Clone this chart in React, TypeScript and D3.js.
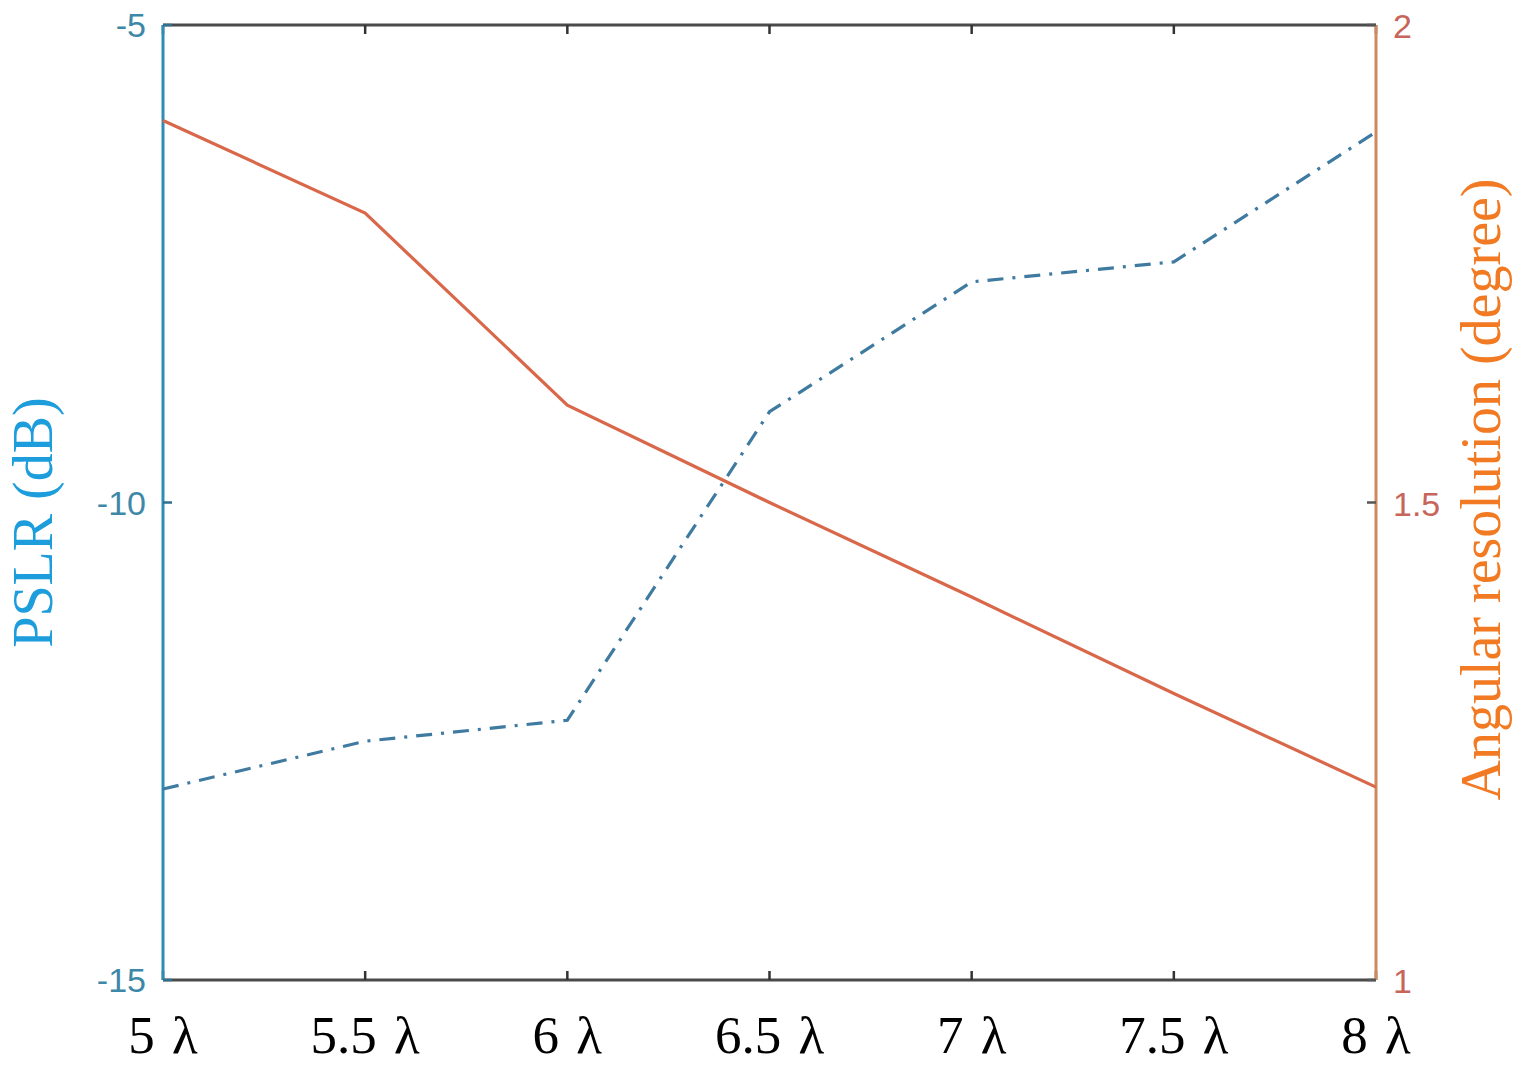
import React from "react";
import * as d3 from "d3";

const xValues = [5, 5.5, 6, 6.5, 7, 7.5, 8];
const xTickLabels = ["5 λ", "5.5 λ", "6 λ", "6.5 λ", "7 λ", "7.5 λ", "8 λ"];
const pslr = [-13.0, -12.5, -12.28, -9.05, -7.69, -7.48, -6.12];
const angRes = [1.9, 1.803, 1.602, 1.5, 1.401, 1.3, 1.202];
const leftTicks = [-15, -10, -5];
const rightTicks = [1, 1.5, 2];

const W = 1518;
const H = 1067;
const L = 163, R = 1376, T = 25, B = 980;

export default function App() {
  const x = d3.scaleLinear().domain([5, 8]).range([L, R]);
  const yL = d3.scaleLinear().domain([-15, -5]).range([B, T]);
  const yR = d3.scaleLinear().domain([1, 2]).range([B, T]);

  const lineL = d3.line<number>().x((_, i) => x(xValues[i])).y((d) => yL(d));
  const lineR = d3.line<number>().x((_, i) => x(xValues[i])).y((d) => yR(d));

  return (
    <svg width={W} height={H} style={{ position: "absolute", left: 0, top: 0, background: "#fff" }}>
      {/* top border */}
      <line x1={L} x2={R} y1={T} y2={T} stroke="#4a4a4a" strokeWidth={3} />
      {/* bottom axis */}
      <line x1={L} x2={R} y1={B} y2={B} stroke="#4a4a4a" strokeWidth={3} />
      {xValues.map((v, i) => (
        <g key={"xt" + i}>
          <line x1={x(v)} x2={x(v)} y1={B} y2={B - 9} stroke="#333" strokeWidth={2.5} />
          <line x1={x(v)} x2={x(v)} y1={T} y2={T + 9} stroke="#333" strokeWidth={2.5} />
          <text x={x(v)} y={1053} textAnchor="middle" fontFamily="Liberation Serif, Times New Roman, serif" fontSize={53} fill="#000" wordSpacing={4}>
            {xTickLabels[i]}
          </text>
        </g>
      ))}
      {/* left axis */}
      <line x1={L} x2={L} y1={T} y2={B} stroke="#2f8db5" strokeWidth={3} />
      {leftTicks.map((v) => (
        <g key={"lt" + v}>
          <line x1={L} x2={L + 9} y1={yL(v)} y2={yL(v)} stroke="#2f6f8f" strokeWidth={2.5} />
          <text x={146} y={yL(v) + 12} textAnchor="end" fontFamily="Liberation Sans, Arial, sans-serif" fontSize={34} fill="#3d88a8">
            {v}
          </text>
        </g>
      ))}
      {/* right axis */}
      <line x1={R} x2={R} y1={T} y2={B} stroke="#d08860" strokeWidth={3} />
      {rightTicks.map((v) => (
        <g key={"rt" + v}>
          <line x1={R} x2={R - 9} y1={yR(v)} y2={yR(v)} stroke="#555" strokeWidth={2.5} />
          <text x={1393} y={yR(v) + 13} textAnchor="start" fontFamily="Liberation Sans, Arial, sans-serif" fontSize={34} fill="#c8655a">
            {v}
          </text>
        </g>
      ))}
      {/* series */}
      <path d={lineR(angRes) || ""} fill="none" stroke="#d9684a" strokeWidth={3.2} />
      <path d={lineL(pslr) || ""} fill="none" stroke="#3f7aa0" strokeWidth={3.2} strokeDasharray="16,9,3,9" />
      {/* axis titles */}
      <text transform={`translate(52, ${(T + B) / 2 + 20}) rotate(-90)`} textAnchor="middle" fontFamily="Liberation Serif, Times New Roman, serif" fontSize={56} fill="#1d9ddc">
        PSLR (dB)
      </text>
      <text transform={`translate(1500, ${(T + B) / 2 - 13}) rotate(-90)`} textAnchor="middle" fontFamily="Liberation Serif, Times New Roman, serif" fontSize={56} fill="#f27a22">
        Angular resolution (degree)
      </text>
    </svg>
  );
}
